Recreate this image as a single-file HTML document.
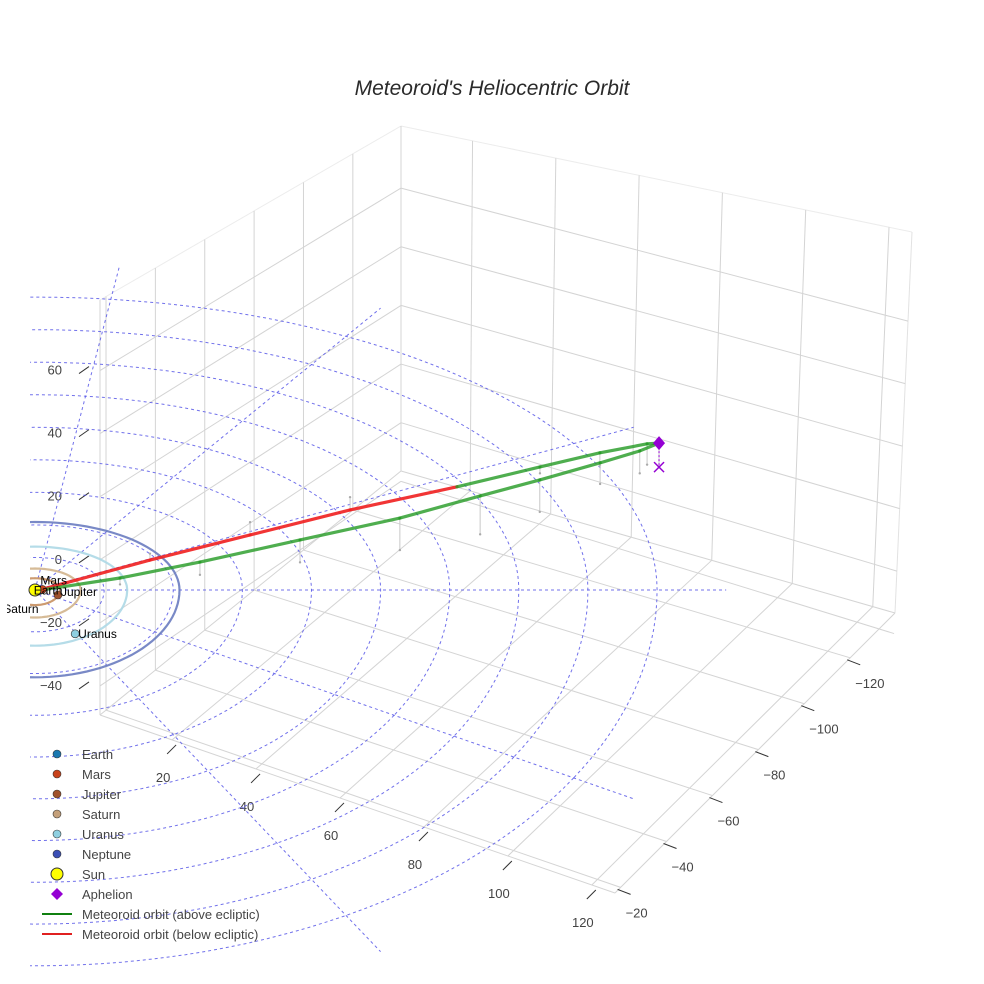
<!DOCTYPE html>
<html><head><meta charset="utf-8"><style>
html,body{margin:0;padding:0;background:#fff;}
svg{display:block;font-family:"Liberation Sans",sans-serif;}
</style></head><body>
<svg id="chart" width="984" height="984" viewBox="0 0 984 984">
<defs><clipPath id="plotclip"><rect x="30" y="0" width="954" height="984"/></clipPath>
<clipPath id="textclip"><rect x="7" y="0" width="977" height="984"/></clipPath></defs>
<rect width="984" height="984" fill="#fff"/>
<text x="492" y="95" text-anchor="middle" font-size="21" font-style="italic" fill="#2a2a2a">Meteoroid's Heliocentric Orbit</text>
<g id="box"></g>
<g id="ecl" clip-path="url(#plotclip)"></g>
<g id="planetorb" clip-path="url(#plotclip)"></g>
<g id="orbit" clip-path="url(#plotclip)"></g>
<g id="planets" clip-path="url(#textclip)"></g>
<g id="legend"></g>
</svg>
<script>
// ---- data ----
const xTicks = [20, 40, 60, 80, 100, 120];
const yTicks = [-20, -40, -60, -80, -100, -120];
const zTicks = [60, 40, 20, 0, -20, -40];
const ringRadii = [14.4, 28.8, 43.2, 57.6, 72, 86.4, 100.8, 115.2, 129.6];
const radialAngles = [0, 30, -30, -60, -90, -113];
const radialLength = 144;
const orbitX = [0.5, 12.7, 23.8, 36.3, 53.3, 65.3, 74.4, 82.7, 85.4, 83.3, 78.5, 73.8, 68, 57, 41.7, 26.4, 14.1, 0.5];
const orbitY = [0, -25.9, -48.4, -68.4, -83.5, -97.3, -106.5, -111.8, -112.1, -107.7, -99.5, -82.5, -67.7, -53.3, -38.2, -23, -11, 0];
const orbitZ = [0, -2, -4, -4, 0, 2, 4, 6.5, 7.5, 7, 6.6, 10, 12, 10, 7, 4, 2, 0];
const aphelion = [85.4, -112.1, 7.5];
const planetNames = ["Earth", "Mars", "Jupiter", "Saturn", "Uranus", "Neptune"];
const planetX = [0.9, 1.2, 5.0, -3.0, 14.8, -25];
const planetY = [-0.4, -1.0, -0.9, 9.3, 8.9, 17];
const planetOrbitR = [1.0, 1.52, 5.2, 9.5, 19.2, 30.1];
const planetColors = ["#1a78b0", "#c8421b", "#a0522d", "#c4a07a", "#8ecfe0", "#3b4fb5"];
const orbitColors = ["#6fa0d0", "#d07050", "#c89060", "#d2b48c", "#add8e6", "#6a7cc0"];

// ---- projection ----
const NS = "http://www.w3.org/2000/svg";
function P(x, y, z) {
  const X = 0.866 * x - 0.5 * y, Y = 0.5 * x + 0.866 * y;
  return [35 + 4.8 * X, 590 + (Y >= 0 ? 2.9 * Y : 2.26 * Y) - 3.2 * z];
}
function mk(tag, attrs, parent) { const e = document.createElementNS(NS, tag); for (const k in attrs) e.setAttribute(k, attrs[k]); parent.appendChild(e); return e; }
function lerp(a, b, t) { return [a[0] + (b[0] - a[0]) * t, a[1] + (b[1] - a[1]) * t]; }

// ---- box geometry (screen layout) ----
const Lb = [100, 715], Bb = [401, 471], Fb = [615, 893], Rb = [895, 613];
const Lt = [100, 300], Bt = [401, 126], Rt = [912, 232];
function fx(v) { return 0.14 + (v - 20) * 0.00815; }
function fy(v) { return 0.02 + (-20 - v) * 0.0082; }
function tL(z) { return 0.17 + (60 - z) * 0.0076; }
function tB(z) { return 0.18 + (60 - z) * 0.0085; }
function tR(z) { return 0.234 + (60 - z) * 0.0082; }
const box = document.getElementById('box');
function gl(a, b, col, parent, name) {
  const l = mk('line', { x1: a[0], y1: a[1], x2: b[0], y2: b[1], stroke: col, 'stroke-width': 1 }, parent);
  
  
  return l;
}
gl(Lt, Bt, '#ececec', box, 'box-edge'); gl(Bt, Rt, '#ececec', box, 'box-edge');
gl(Bt, Bb, '#d4d4d4', box, 'box-edge'); gl(Lt, Lb, '#d4d4d4', box, 'box-edge'); gl(Rt, Rb, '#e2e2e2', box, 'box-edge');
gl(Lb, Bb, '#d4d4d4', box, 'box-edge'); gl(Bb, Rb, '#d4d4d4', box, 'box-edge');
gl(Lb, Fb, '#d4d4d4', box, 'box-edge'); gl(Fb, Rb, '#d4d4d4', box, 'box-edge');
xTicks.forEach(v => {
  const f = fx(v);
  gl(lerp(Lb, Fb, f), lerp(Bb, Rb, f), '#d4d4d4', box, 'floor-gridline-x');
  gl(lerp(Bt, Rt, f), lerp(Bb, Rb, f), '#d4d4d4', box, 'right-wall-gridline-x');
  const e = lerp(Lb, Fb, f);
  gl([e[0] + 4, e[1] + 5], [e[0] - 5, e[1] + 14], '#333', box, 'x-tick');
  const t = mk('text', { x: e[0] - 9, y: e[1] + 42, 'text-anchor': 'middle', 'font-size': 13, fill: '#444' }, box);
  t.textContent = v;
  
  
});
yTicks.forEach(v => {
  const f = fy(v);
  gl(lerp(Fb, Rb, f), lerp(Lb, Bb, f), '#d4d4d4', box, 'floor-gridline-y');
  gl(lerp(Lt, Bt, f), lerp(Lb, Bb, f), '#d4d4d4', box, 'left-wall-gridline-y');
  const e = lerp(Fb, Rb, f);
  gl([e[0] - 3, e[1] + 2], [e[0] + 10, e[1] + 7], '#333', box, 'y-tick');
  const t = mk('text', { x: e[0] + 5, y: e[1] + 30, 'font-size': 13, fill: '#444' }, box);
  t.textContent = '\u2212' + Math.abs(v);
  
  
});
zTicks.forEach(v => {
  const a = lerp(Lt, Lb, tL(v)), b = lerp(Bt, Bb, tB(v)), c = lerp(Rt, Rb, tR(v));
  gl(a, b, '#d4d4d4', box, 'left-wall-gridline-z');
  gl(b, c, '#d4d4d4', box, 'right-wall-gridline-z');
  gl([a[0] - 11, a[1] - 4], [a[0] - 21, a[1] + 3], '#333', box, 'z-tick');
  const t = mk('text', { x: a[0] - 38, y: a[1] + 4, 'text-anchor': 'end', 'font-size': 13, fill: '#444' }, box);
  t.textContent = v < 0 ? '\u2212' + Math.abs(v) : v;
  
  
});

// ---- ecliptic grid ----
const ecl = document.getElementById('ecl');
ringRadii.forEach(r => {
  let d = '';
  for (let i = 0; i <= 180; i++) { const a = i / 180 * 2 * Math.PI; const p = P(r * Math.cos(a), r * Math.sin(a), 0); d += (i ? 'L' : 'M') + p[0].toFixed(1) + ' ' + p[1].toFixed(1); }
  const e = mk('path', { d: d, fill: 'none', stroke: '#5858e8', 'stroke-width': 1, 'stroke-dasharray': '3,3', opacity: 0.85 }, ecl);
  
  
});
radialAngles.forEach(ang => {
  const a = ang * Math.PI / 180;
  const p0 = P(0, 0, 0), p1 = P(radialLength * Math.cos(a), radialLength * Math.sin(a), 0);
  const e = mk('line', { x1: p0[0], y1: p0[1], x2: p1[0], y2: p1[1], stroke: '#5858e8', 'stroke-width': 1, 'stroke-dasharray': '3,3', opacity: 0.85 }, ecl);
  
  
});

// ---- planet orbits ----
const po = document.getElementById('planetorb');
planetOrbitR.forEach((r, i) => {
  let d = '';
  for (let k = 0; k <= 120; k++) { const a = k / 120 * 2 * Math.PI; const p = P(r * Math.cos(a), r * Math.sin(a), 0); d += (k ? 'L' : 'M') + p[0].toFixed(1) + ' ' + p[1].toFixed(1); }
  const e = mk('path', { d: d, fill: 'none', stroke: orbitColors[i], 'stroke-width': 2.2, opacity: 0.9 }, po);
  
  
});

// ---- meteoroid orbit ----
const og = document.getElementById('orbit');
for (let i = 0; i < orbitX.length; i++) {
  if (orbitZ[i] === 0) continue;
  const a = P(orbitX[i], orbitY[i], orbitZ[i]), b = P(orbitX[i], orbitY[i], 0);
  const e = mk('line', { x1: a[0], y1: a[1], x2: b[0], y2: b[1], stroke: '#c8c8c8', 'stroke-width': 1 }, og);
  
  
  const dt = mk('circle', { cx: b[0], cy: b[1], r: 1.2, fill: '#aaa' }, og);
  
  
}
for (let i = 0; i < orbitX.length - 1; i++) {
  const a = P(orbitX[i], orbitY[i], orbitZ[i]), b = P(orbitX[i + 1], orbitY[i + 1], orbitZ[i + 1]);
  const below = orbitZ[i] <= 0 && orbitZ[i + 1] <= 0 && (orbitZ[i] < 0 || orbitZ[i + 1] < 0);
  const e = mk('line', { x1: a[0], y1: a[1], x2: b[0], y2: b[1], stroke: below ? '#f02020' : '#249a24', 'stroke-width': 3.2, 'stroke-linecap': 'round', opacity: below ? 0.9 : 0.8 }, og);
  
  
}
const ap = P(aphelion[0], aphelion[1], aphelion[2]), ap0 = P(aphelion[0], aphelion[1], 0);
const apl = mk('line', { x1: ap[0], y1: ap[1], x2: ap0[0], y2: ap0[1], stroke: '#9400d3', 'stroke-width': 1, 'stroke-dasharray': '2,2' }, og);


const apx = mk('path', { d: `M${ap0[0] - 5} ${ap0[1] - 5}L${ap0[0] + 5} ${ap0[1] + 5}M${ap0[0] + 5} ${ap0[1] - 5}L${ap0[0] - 5} ${ap0[1] + 5}`, stroke: '#9400d3', 'stroke-width': 1.5, fill: 'none' }, og);


const apd = mk('path', { d: `M${ap[0]} ${ap[1] - 7}L${ap[0] + 6} ${ap[1]}L${ap[0]} ${ap[1] + 7}L${ap[0] - 6} ${ap[1]}Z`, fill: '#9400d3' }, og);



// ---- planets & sun ----
const pg = document.getElementById('planets');
planetNames.forEach((n, i) => {
  const p = P(planetX[i], planetY[i], 0);
  const c = mk('circle', { cx: p[0], cy: p[1], r: 4, fill: planetColors[i], stroke: '#333', 'stroke-width': 0.6 }, pg);
  
  
});
const sp = P(0, 0, 0);
const sun = mk('circle', { cx: sp[0], cy: sp[1], r: 6, fill: '#ffff00', stroke: '#333', 'stroke-width': 1 }, pg);


const labelOff = [[-6, 4], [-2, -5], [3, 1], [3, 4], [3, 4], [3, 4]];
planetNames.forEach((n, i) => {
  const p = P(planetX[i], planetY[i], 0);
  const t = mk('text', { x: p[0] + labelOff[i][0], y: p[1] + labelOff[i][1], 'font-size': 12, fill: '#000' }, pg);
  t.textContent = n;
  
  
});

// ---- legend ----
const lg = document.getElementById('legend');
const legendNames = ["Earth", "Mars", "Jupiter", "Saturn", "Uranus", "Neptune", "Sun", "Aphelion", "Meteoroid orbit (above ecliptic)", "Meteoroid orbit (below ecliptic)"];
legendNames.forEach((n, i) => {
  const y = 754 + i * 20;
  if (i < 6) {
    const c = mk('circle', { cx: 57, cy: y, r: 4, fill: planetColors[i], stroke: '#333', 'stroke-width': 0.6 }, lg);
    
    
  } else if (i === 6) {
    const c = mk('circle', { cx: 57, cy: y, r: 6, fill: '#ffff00', stroke: '#333', 'stroke-width': 1 }, lg);
    
    
  } else if (i === 7) {
    const c = mk('path', { d: `M57 ${y - 6}L63 ${y}L57 ${y + 6}L51 ${y}Z`, fill: '#9400d3' }, lg);
    
    
  } else {
    const c = mk('line', { x1: 42, y1: y, x2: 72, y2: y, stroke: i === 8 ? '#108010' : '#e02020', 'stroke-width': 2 }, lg);
    
    
  }
  const t = mk('text', { x: 82, y: y + 5, 'font-size': 13, fill: '#444' }, lg);
  t.textContent = n;
  
  
});
</script>
</body></html>
